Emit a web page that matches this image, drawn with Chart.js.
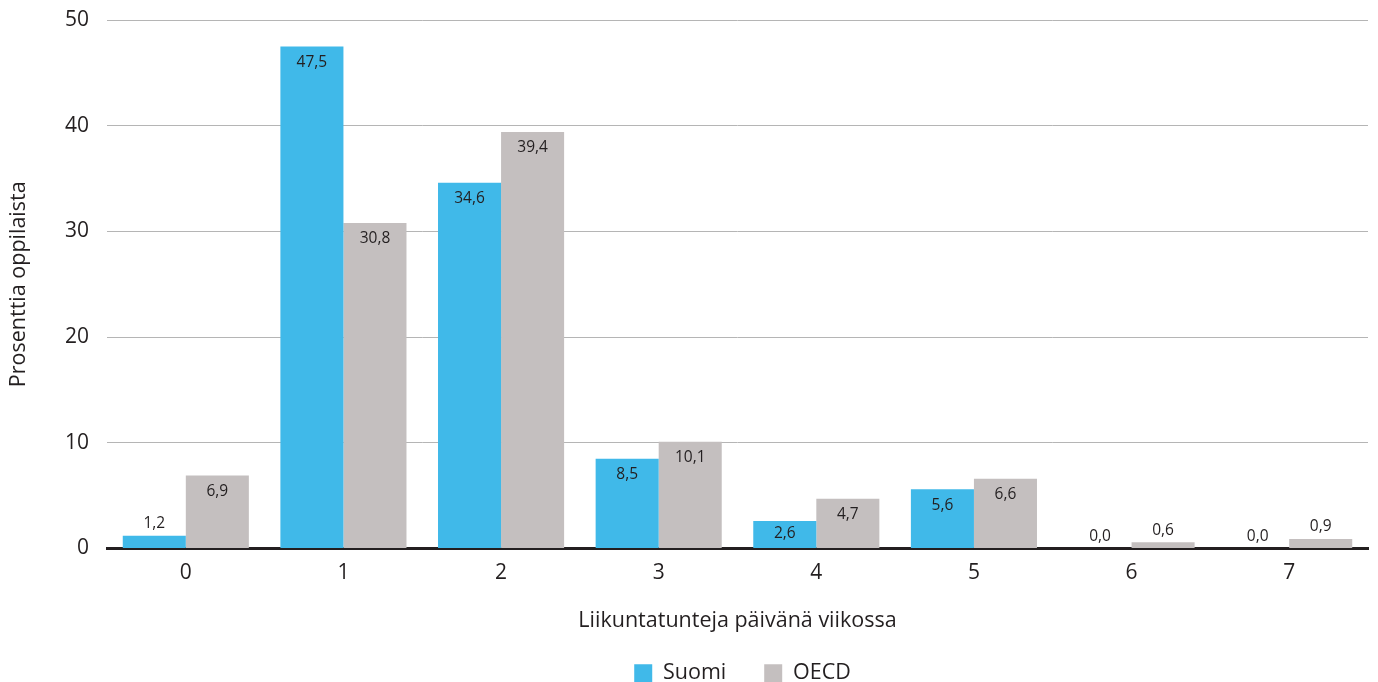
<!DOCTYPE html>
<html>
<head>
<meta charset="utf-8">
<script src="https://cdn.jsdelivr.net/npm/chart.js@4"></script>
<style>
  html, body { margin: 0; padding: 0; background: #fff; }
  #wrap { width: 1378px; height: 682px; }
</style>
</head>
<body>
<div id="wrap"><canvas id="grafica" width="1378" height="682"></canvas></div>
<script>
const kategoriat = ['0', '1', '2', '3', '4', '5', '6', '7'];
const suomi = [1.2, 47.5, 34.6, 8.5, 2.6, 5.6, 0.0, 0.0];
const oecd = [6.9, 30.8, 39.4, 10.1, 4.7, 6.6, 0.6, 0.9];
const yTicks = [0, 10, 20, 30, 40, 50];

const fontti = '"Open Sans", "Noto Sans", sans-serif';
const tekstiVari = '#231f20';

// Arvot pylväiden sisään tai päälle
const arvoPlugin = {
    id: 'arvot',
    afterDatasetsDraw(chart) {
        const ctx = chart.ctx;
        ctx.save();
        ctx.font = '15.5px ' + fontti;
        ctx.fillStyle = tekstiVari;
        ctx.textAlign = 'center';
        ctx.textBaseline = 'middle';
        chart.data.datasets.forEach((ds, i) => {
            const meta = chart.getDatasetMeta(i);
            meta.data.forEach((bar, j) => {
                const arvo = ds.data[j];
                const korkeus = bar.base - bar.y;
                const y = korkeus > 22 ? Math.min(bar.y + 16, bar.base - 14) : bar.y - 12;
                ctx.fillText(arvo.toFixed(1).replace('.', ','), bar.x, y);
            });
        });
        ctx.restore();
    }
};

// Selite keskelle piirtoaluetta
const seliteSiirto = {
    id: 'seliteSiirto',
    afterLayout(chart) {
        const siirto = (chart.chartArea.left + chart.chartArea.right) / 2 - (chart.legend.left + chart.legend.right) / 2 + 5;
        chart.legend.left += siirto;
        chart.legend.right += siirto;
    }
};

const ctx = document.getElementById('grafica').getContext('2d');
new Chart(ctx, {
    type: 'bar',
    data: {
        labels: kategoriat,
        datasets: [
            { label: 'Suomi', data: suomi, backgroundColor: '#40b9e9' },
            { label: 'OECD', data: oecd, backgroundColor: '#c4bfbf' }
        ]
    },
    options: {
        responsive: false,
        animation: false,
        layout: { padding: { top: 20, right: 10, left: 0, bottom: -12 } },
        datasets: { bar: { categoryPercentage: 0.8, barPercentage: 1.0 } },
        plugins: {
            legend: {
                position: 'bottom',
                labels: {
                    boxWidth: 18,
                    boxHeight: 18,
                    padding: 38,
                    color: tekstiVari,
                    font: { family: fontti, size: 21.5 }
                }
            },
            tooltip: { enabled: false }
        },
        scales: {
            x: {
                grid: { display: false },
                border: { display: true, color: tekstiVari, width: 3 },
                ticks: { color: tekstiVari, font: { family: fontti, size: 21 }, padding: 4 },
                title: {
                    display: true,
                    text: 'Liikuntatunteja päivänä viikossa',
                    color: tekstiVari,
                    font: { family: fontti, size: 21.5 },
                    padding: { top: 18, bottom: -9 }
                }
            },
            y: {
                min: 0,
                max: 50,
                afterBuildTicks: (axis) => { axis.ticks = yTicks.map(v => ({ value: v })); },
                afterFit: (axis) => {
                    axis.width = 107;
                    axis.paddingTop = 0;
                    axis.paddingBottom = 0;
                },
                grid: { color: '#b5b5b5', lineWidth: 1, drawTicks: false },
                border: { display: false },
                ticks: { color: tekstiVari, font: { family: fontti, size: 21 }, padding: 18 },
                title: {
                    display: true,
                    text: 'Prosenttia oppilaista',
                    color: tekstiVari,
                    font: { family: fontti, size: 21.5 },
                    padding: { top: 6, bottom: 0 }
                }
            }
        }
    },
    plugins: [arvoPlugin, seliteSiirto]
});
</script>
</body>
</html>
